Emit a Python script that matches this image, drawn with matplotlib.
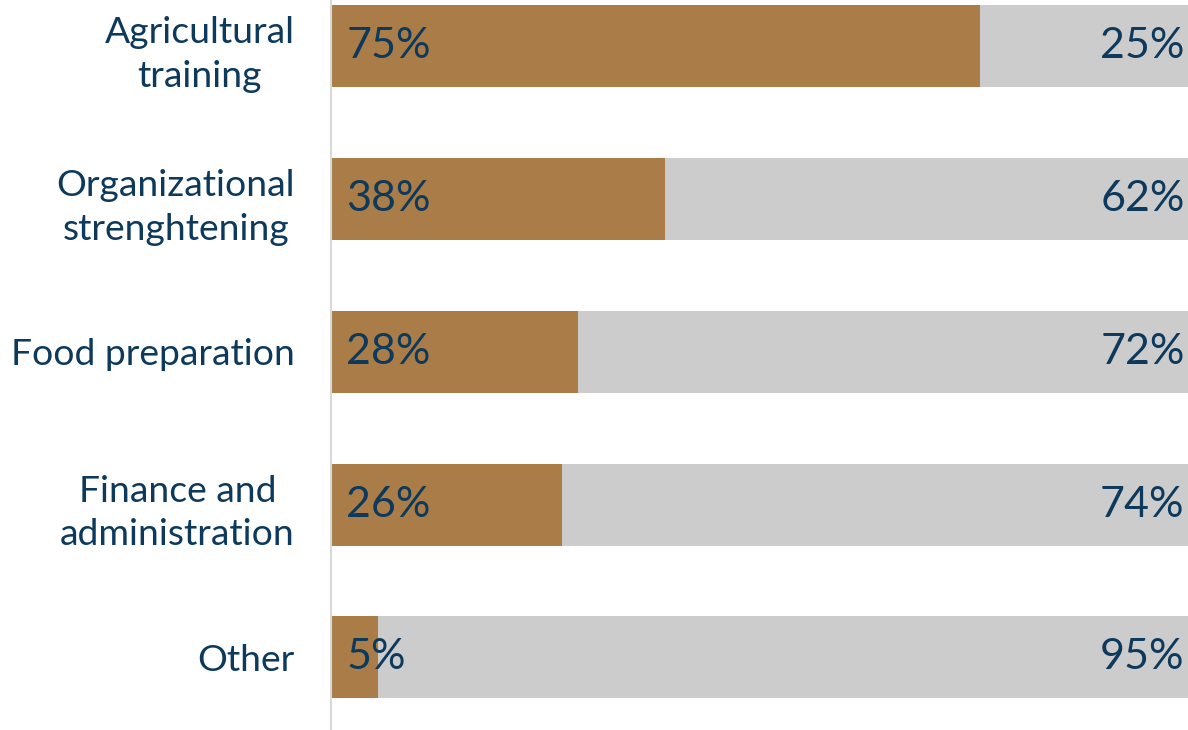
import matplotlib.pyplot as plt
import numpy as np

categories = ['Agricultural\ntraining', 'Organizational\nstrenghtening', 'Food preparation',
              'Finance and\nadministration', 'Other']
yes_share = [75.7, 39.0, 28.8, 26.9, 5.5]
yes_labels = ['75%', '38%', '28%', '26%', '5%']
no_labels = ['25%', '62%', '72%', '74%', '95%']

brown = '#A97C48'
grey = '#CCCCCC'
navy = '#0D3A5C'

plt.rcParams['font.family'] = ['Lato', 'DejaVu Sans']

fig = plt.figure(figsize=(11.88, 7.30), dpi=100)
ax = fig.add_axes([331 / 1188, 0, 1 - 331 / 1188, 1])

y = np.arange(len(categories))
no_share = [100 - v for v in yes_share]
ax.barh(y, yes_share, height=0.537, color=brown)
ax.barh(y, no_share, left=yes_share, height=0.537, color=grey)

for i in range(len(categories)):
    ax.text(1.8, y[i], yes_labels[i], ha='left', va='center', fontsize=31, color=navy)
    ax.text(99.6, y[i], no_labels[i], ha='right', va='center', fontsize=31, color=navy)

ax.set_xlim(0, 100)
ax.set_ylim(4.475, -0.304)
ax.set_xticks([])
ax.set_yticks(y)
ax.set_yticklabels(categories, fontsize=26.8, color=navy, multialignment='center',
                   linespacing=1.4)
ax.tick_params(axis='y', length=0, pad=26)
for s in ['top', 'right', 'bottom']:
    ax.spines[s].set_visible(False)
ax.spines['left'].set_color('#D9D9D9')
ax.spines['left'].set_linewidth(1.5)

fig.savefig('out.png', dpi=100)
